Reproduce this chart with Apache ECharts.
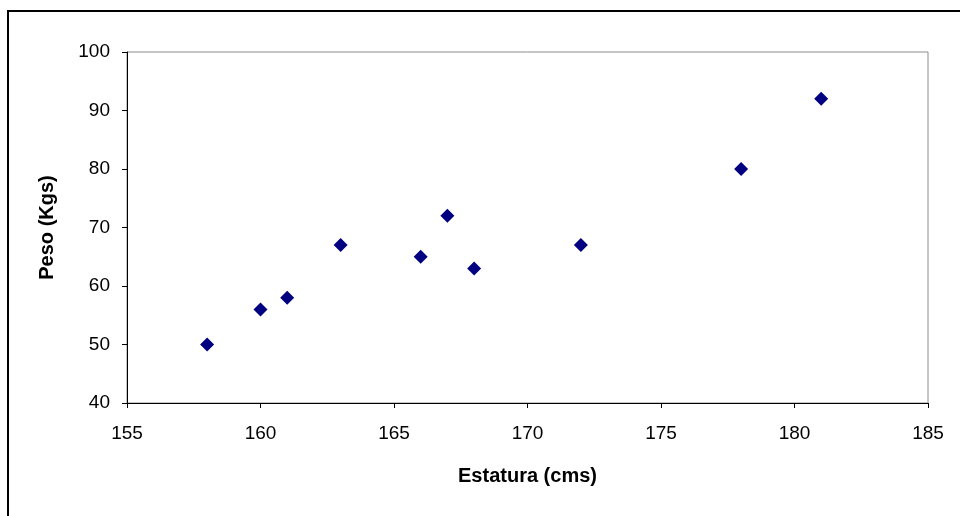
<!DOCTYPE html>
<html>
<head>
<meta charset="utf-8">
<script src="https://cdn.jsdelivr.net/npm/echarts@6/dist/echarts.min.js"></script>
<style>
  html, body { margin: 0; padding: 0; background: #fff; }
  #chart { width: 960px; height: 516px; }
</style>
</head>
<body>
<div id="chart"></div>
<script>
// Estatura (cm) vs peso (kg)
const estatura = [158, 160, 161, 163, 166, 167, 168, 172, 178, 181];
const peso = [50, 56, 58, 67, 65, 72, 63, 67, 80, 92];
const xTicks = [155, 160, 165, 170, 175, 180, 185];
const yTicks = [40, 50, 60, 70, 80, 90, 100];

const points = estatura.map((e, i) => [e, peso[i]]);
const font = 'Liberation Sans, Arial, sans-serif';

const chart = echarts.init(document.getElementById('chart'), null, { renderer: 'canvas' });
chart.setOption({
  backgroundColor: '#fff',
  animation: false,
  graphic: [{
    type: 'rect',
    shape: { x: 8, y: 11, width: 1000, height: 1000 },
    style: { fill: 'none', stroke: '#000', lineWidth: 2 },
    z: -1
  }],
  grid: {
    left: 127, top: 52, right: 32, bottom: 113,
    show: true, borderColor: '#8c8c8c', borderWidth: 1, backgroundColor: '#fff'
  },
  xAxis: {
    type: 'value',
    min: xTicks[0], max: xTicks[xTicks.length - 1], interval: 5,
    name: 'Estatura (cms)', nameLocation: 'middle', nameGap: 63,
    nameTextStyle: { fontFamily: font, fontSize: 20, fontWeight: 'bold', color: '#000' },
    axisLine: { show: true, lineStyle: { color: '#000', width: 1 } },
    axisTick: { show: true, length: 5, lineStyle: { color: '#000' } },
    axisLabel: { fontFamily: font, fontSize: 19, color: '#000', margin: 21 },
    splitLine: { show: false }
  },
  yAxis: {
    type: 'value',
    min: yTicks[0], max: yTicks[yTicks.length - 1], interval: 10,
    name: 'Peso (Kgs)', nameLocation: 'middle', nameGap: 70, nameRotate: 90,
    nameTextStyle: { fontFamily: font, fontSize: 20, fontWeight: 'bold', color: '#000' },
    axisLine: { show: true, lineStyle: { color: '#000', width: 1 } },
    axisTick: { show: true, length: 5, lineStyle: { color: '#000' } },
    axisLabel: { fontFamily: font, fontSize: 19, color: '#000', margin: 17 },
    splitLine: { show: false }
  },
  series: [{
    type: 'scatter',
    data: points,
    symbol: 'diamond',
    symbolSize: [14, 14],
    itemStyle: { color: '#000080', opacity: 1 }
  }]
});
</script>
</body>
</html>
